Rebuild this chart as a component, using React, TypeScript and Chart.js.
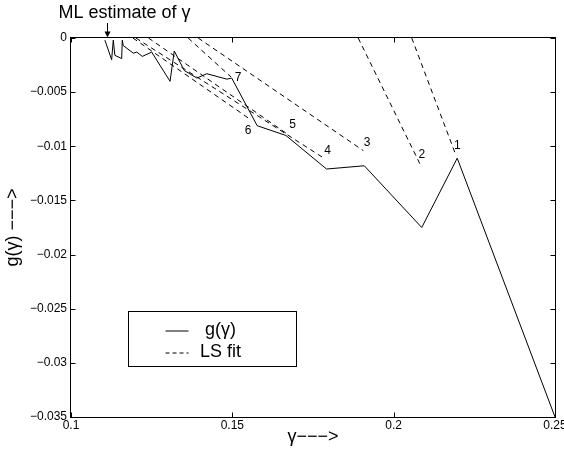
import React, { useEffect, useRef } from "react";
import { Chart, registerables } from "chart.js";

Chart.register(...registerables);

// ---- data ----
const gammaValues = [
  0.1105, 0.1126, 0.1131, 0.1136, 0.1157, 0.1159, 0.1162, 0.1193, 0.1204, 0.1221,
  0.125, 0.1307, 0.132, 0.1351, 0.139, 0.1421, 0.1483, 0.1498, 0.1577, 0.1666,
  0.1792, 0.1909, 0.2087, 0.2197, 0.25,
];
const gValues = [
  -0.0002, -0.002, -0.0002, -0.0016, -0.0019, -0.0002, -0.0007, -0.0014, -0.0013, -0.0017,
  -0.0013, -0.004, -0.0012, -0.003, -0.0037, -0.0033, -0.0038, -0.0037, -0.0081, -0.009,
  -0.0121, -0.0118, -0.0175, -0.0111, -0.035,
];

const fitNames = ["1", "2", "3", "4", "5", "6", "7"];
const fitStartGamma = [0.2056, 0.189, 0.1394, 0.1201, 0.124, 0.1192, 0.1363];
const fitStartG = [0, 0, 0, 0, 0, 0, 0];
const fitEndGamma = [0.219, 0.2081, 0.1906, 0.1784, 0.1672, 0.1555, 0.1496];
const fitEndG = [-0.0106, -0.0116, -0.0104, -0.0111, -0.0089, -0.0075, -0.0036];
const fitLabelGamma = [0.2197, 0.2087, 0.1918, 0.1795, 0.1687, 0.1549, 0.1518];
const fitLabelG = [-0.0099, -0.0108, -0.0097, -0.0104, -0.008, -0.0086, -0.0037];

const mlGamma = 0.1111;
const mlText = "ML estimate of γ";

const xTickValues = [0.1, 0.15, 0.2, 0.25];
const xTickLabels = ["0.1", "0.15", "0.2", "0.25"];
const yTickValues = [0, -0.005, -0.01, -0.015, -0.02, -0.025, -0.03, -0.035];
const yTickLabels = ["0", "−0.005", "−0.01", "−0.015", "−0.02", "−0.025", "−0.03", "−0.035"];

const xTitle = "γ−−−>";
const yTitle = "g(γ) −−−>";
const seriesLabel = "g(γ)";
const fitLabel = "LS fit";

const FAMILY = "'Liberation Sans', Arial, Helvetica, sans-serif";

const decorPlugin = {
  id: "decor",
  afterDraw(chart: any) {
    const { ctx, chartArea: a, scales } = chart;
    const x = scales.x;
    const y = scales.y;
    ctx.save();
    ctx.strokeStyle = "#000";
    ctx.fillStyle = "#000";
    ctx.lineWidth = 1;
    ctx.setLineDash([]);
    const L = Math.round(a.left) - 0.5;
    const R = Math.round(a.right) + 0.5;
    const T = Math.round(a.top) - 0.5;
    const B = Math.round(a.bottom) + 0.5;
    ctx.strokeRect(L, T, R - L, B - T);
    const tl = 5;
    ctx.beginPath();
    for (const v of xTickValues) {
      const px = Math.round(x.getPixelForValue(v)) + 0.5;
      ctx.moveTo(px, B);
      ctx.lineTo(px, B - tl);
      ctx.moveTo(px, T);
      ctx.lineTo(px, T + tl);
    }
    for (const v of yTickValues) {
      const py = Math.round(y.getPixelForValue(v)) + 0.5;
      ctx.moveTo(L, py);
      ctx.lineTo(L + tl, py);
      ctx.moveTo(R, py);
      ctx.lineTo(R - tl, py);
    }
    ctx.stroke();

    // fit labels
    ctx.font = `12px ${FAMILY}`;
    ctx.textAlign = "center";
    ctx.textBaseline = "middle";
    fitNames.forEach((n, i) => {
      ctx.fillText(n, x.getPixelForValue(fitLabelGamma[i]), y.getPixelForValue(fitLabelG[i]));
    });

    // ML annotation
    const ax = Math.round(x.getPixelForValue(mlGamma)) + 0.5;
    ctx.font = `18px ${FAMILY}`;
    ctx.textAlign = "left";
    ctx.textBaseline = "alphabetic";
    ctx.fillText(mlText, ax - 49, 18);
    ctx.beginPath();
    ctx.moveTo(ax, 23);
    ctx.lineTo(ax, T - 4);
    ctx.stroke();
    ctx.beginPath();
    ctx.moveTo(ax - 3, T - 6);
    ctx.lineTo(ax + 3, T - 6);
    ctx.lineTo(ax, T);
    ctx.closePath();
    ctx.fill();

    // legend box
    const bx = Math.round(a.left + 57) + 0.5;
    const by = Math.round(a.top + 273) + 0.5;
    const bw = 168;
    const bh = 55;
    ctx.fillStyle = "#fff";
    ctx.fillRect(bx, by, bw, bh);
    ctx.strokeStyle = "#000";
    ctx.strokeRect(bx, by, bw, bh);
    ctx.beginPath();
    ctx.moveTo(bx + 37, by + 19.5);
    ctx.lineTo(bx + 60, by + 19.5);
    ctx.stroke();
    ctx.setLineDash([4, 3]);
    ctx.beginPath();
    ctx.moveTo(bx + 37, by + 41.5);
    ctx.lineTo(bx + 60, by + 41.5);
    ctx.stroke();
    ctx.setLineDash([]);
    ctx.fillStyle = "#000";
    ctx.font = `18px ${FAMILY}`;
    ctx.textAlign = "center";
    ctx.textBaseline = "middle";
    ctx.fillText(seriesLabel, bx + 92, by + 19);
    ctx.fillText(fitLabel, bx + 92, by + 41);
    ctx.restore();
  },
};

export default function App() {
  const ref = useRef<HTMLCanvasElement | null>(null);
  useEffect(() => {
    if (!ref.current) return;
    Chart.defaults.font.family = FAMILY;
    const datasets: any[] = [
      {
        label: seriesLabel,
        data: gammaValues.map((g, i) => ({ x: g, y: gValues[i] })),
        borderColor: "#000",
        borderWidth: 1,
        pointRadius: 0,
        fill: false,
        tension: 0,
      },
    ];
    fitNames.forEach((n, i) => {
      datasets.push({
        label: `${fitLabel} ${n}`,
        data: [
          { x: fitStartGamma[i], y: fitStartG[i] },
          { x: fitEndGamma[i], y: fitEndG[i] },
        ],
        borderColor: "#000",
        borderWidth: 1,
        borderDash: [5, 4],
        pointRadius: 0,
        fill: false,
        tension: 0,
      });
    });
    const chart = new Chart(ref.current, {
      type: "line",
      data: { datasets },
      options: {
        animation: false,
        responsive: false,
        devicePixelRatio: 1,
        layout: { padding: { left: 0, right: 9, top: 38, bottom: 0 } },
        plugins: { legend: { display: false }, tooltip: { enabled: false } },
        scales: {
          x: {
            type: "linear",
            min: 0.1,
            max: 0.25,
            afterBuildTicks: (s: any) => {
              s.ticks = xTickValues.map((v) => ({ value: v }));
            },
            afterFit: (s: any) => {
              s.height = 34;
              s.paddingLeft = 0;
              s.paddingRight = 0;
            },
            ticks: {
              autoSkip: false,
              maxRotation: 0,
              padding: 1,
              color: "#000",
              font: { size: 12, family: FAMILY },
              callback: (v: any) => xTickLabels[xTickValues.indexOf(Number(v))] ?? "",
            },
            grid: { display: false, drawTicks: false },
            border: { display: false },
            title: {
              display: true,
              text: xTitle,
              color: "#000",
              font: { size: 18, family: FAMILY },
              padding: { top: 0, bottom: 3 },
            },
          },
          y: {
            type: "linear",
            min: -0.035,
            max: 0,
            afterBuildTicks: (s: any) => {
              s.ticks = yTickValues.map((v) => ({ value: v }));
            },
            afterFit: (s: any) => {
              s.width = 71;
              s.paddingTop = 0;
              s.paddingBottom = 0;
            },
            ticks: {
              autoSkip: false,
              padding: 4,
              color: "#000",
              font: { size: 12, family: FAMILY },
              callback: (v: any) => yTickLabels[yTickValues.indexOf(Number(v))] ?? "",
            },
            grid: { display: false, drawTicks: false },
            border: { display: false },
            title: {
              display: true,
              text: yTitle,
              color: "#000",
              font: { size: 18, family: FAMILY },
              padding: { top: 2, bottom: 0 },
            },
          },
        },
      },
      plugins: [decorPlugin],
    } as any);
    return () => chart.destroy();
  }, []);
  return (
    <div style={{ position: "absolute", left: 0, top: 0, width: 564, height: 451, background: "#fff" }}>
      <canvas ref={ref} width={564} height={451} style={{ display: "block" }} />
    </div>
  );
}
